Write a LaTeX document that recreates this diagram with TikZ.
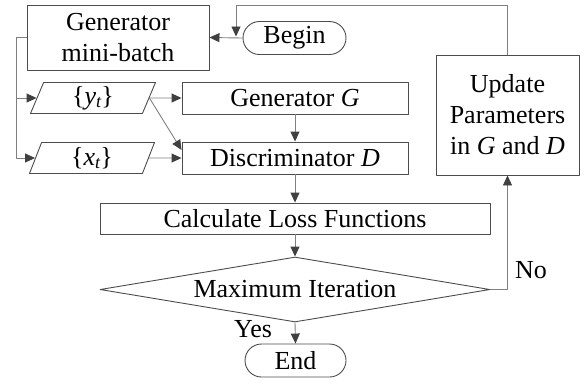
\documentclass[tikz,border=0pt]{standalone}
\usepackage{fontspec}
\setmainfont{LiberationSerif}[Extension=.ttf, UprightFont=*-Regular,
  ItalicFont=*-Italic, BoldFont=*-Bold, BoldItalicFont=*-BoldItalic]
\usetikzlibrary{calc, positioning}
\usetikzlibrary{arrows.meta}
\usetikzlibrary{shapes.geometric, shapes.misc}

\newcommand{\lowidx}[1]{\raisebox{-0.3ex}{\fontsize{18}{18}\selectfont\textit{#1}}}

\begin{document}
\begin{tikzpicture}[x=1pt, y=-1pt, line join=round,
  font=\fontsize{26}{31}\selectfont,
  stepbox/.style={draw=black!70, line width=0.9pt, rectangle, inner sep=0pt, align=center},
  termbox/.style={draw=black!70, line width=0.9pt, rounded rectangle, inner sep=0pt},
  databox/.style={draw=black!70, line width=0.9pt, trapezium, trapezium left angle=61,
    trapezium right angle=119, trapezium stretches body, inner sep=0pt},
  testbox/.style={draw=black!70, line width=0.9pt, diamond, aspect=6, inner sep=0pt},
  flow/.style={draw=black!50, line width=0.9pt,
    -{Triangle[length=10pt, width=9pt, color=black!75]}},
  plainflow/.style={draw=black!50, line width=0.9pt}]
\useasboundingbox (0,0) rectangle (585,384);

% Boxes of the loop
\node[stepbox, minimum width=182pt, minimum height=65pt] (batch) at (118,37.5) {Generator\\mini-batch};
\node[termbox, minimum width=103pt, minimum height=33pt] (begin) at (294.5,38) {Begin};
\node[databox, minimum width=125pt, minimum height=31pt] (yt) at (93,98) {\{\textit{y}\lowidx{t}\}};
\node[databox, minimum width=125pt, minimum height=31pt] (xt) at (92,158) {\{\textit{x}\lowidx{t}\}};
\node[stepbox, minimum width=226pt, minimum height=32pt] (gen) at (295,98) {Generator \textit{G}};
\node[stepbox, minimum width=226pt, minimum height=32pt] (disc) at (295,158) {Discriminator \textit{D}};
\node[stepbox, minimum width=390pt, minimum height=31pt] (loss) at (295,218.5) {Calculate Loss Functions};
\node[testbox, minimum width=390pt, minimum height=65pt] (iter) at (295,289.5) {Maximum Iteration};
\node[termbox, minimum width=101pt, minimum height=33pt] (end) at (295.5,360.5) {End};
\node[stepbox, minimum width=143pt, minimum height=120pt] (update) at (507.5,115)
  {Update\\Parameters\\in \textit{G} and \textit{D}};

% Turning points
\coordinate (bus) at (16,37.5);
\coordinate (looptop) at (236,5);
\coordinate (merge) at (236,36.5);
\coordinate (discin) at ($(disc.west)+(0,-8)$);

% Connectors
\draw[flow] (begin.west) -- (batch.east);
\draw[flow] (update.north) |- (looptop) -- (merge);
\draw[plainflow] (batch.west) -- (bus);
\draw[flow] (bus) |- (yt.west);
\draw[flow] (bus) |- (xt.west);
\draw[flow] (yt.east) -- (gen.west);
\draw[flow] (yt.east) -- (discin);
\draw[flow] (xt.east) -- (disc.west);
\draw[flow] (gen.south) -- (disc.north);
\draw[flow] (disc.south) -- (loss.north);
\draw[flow] (loss.south) -- (iter.north);
\draw[flow] (iter.south) -- (end.north);
\draw[flow] (iter.east) -| (update.south);

% Branch labels
\node[inner sep=0pt] (yes) at (253,329) {Yes};
\node[inner sep=0pt] (no) at (531,270) {No};
\end{tikzpicture}
\end{document}
